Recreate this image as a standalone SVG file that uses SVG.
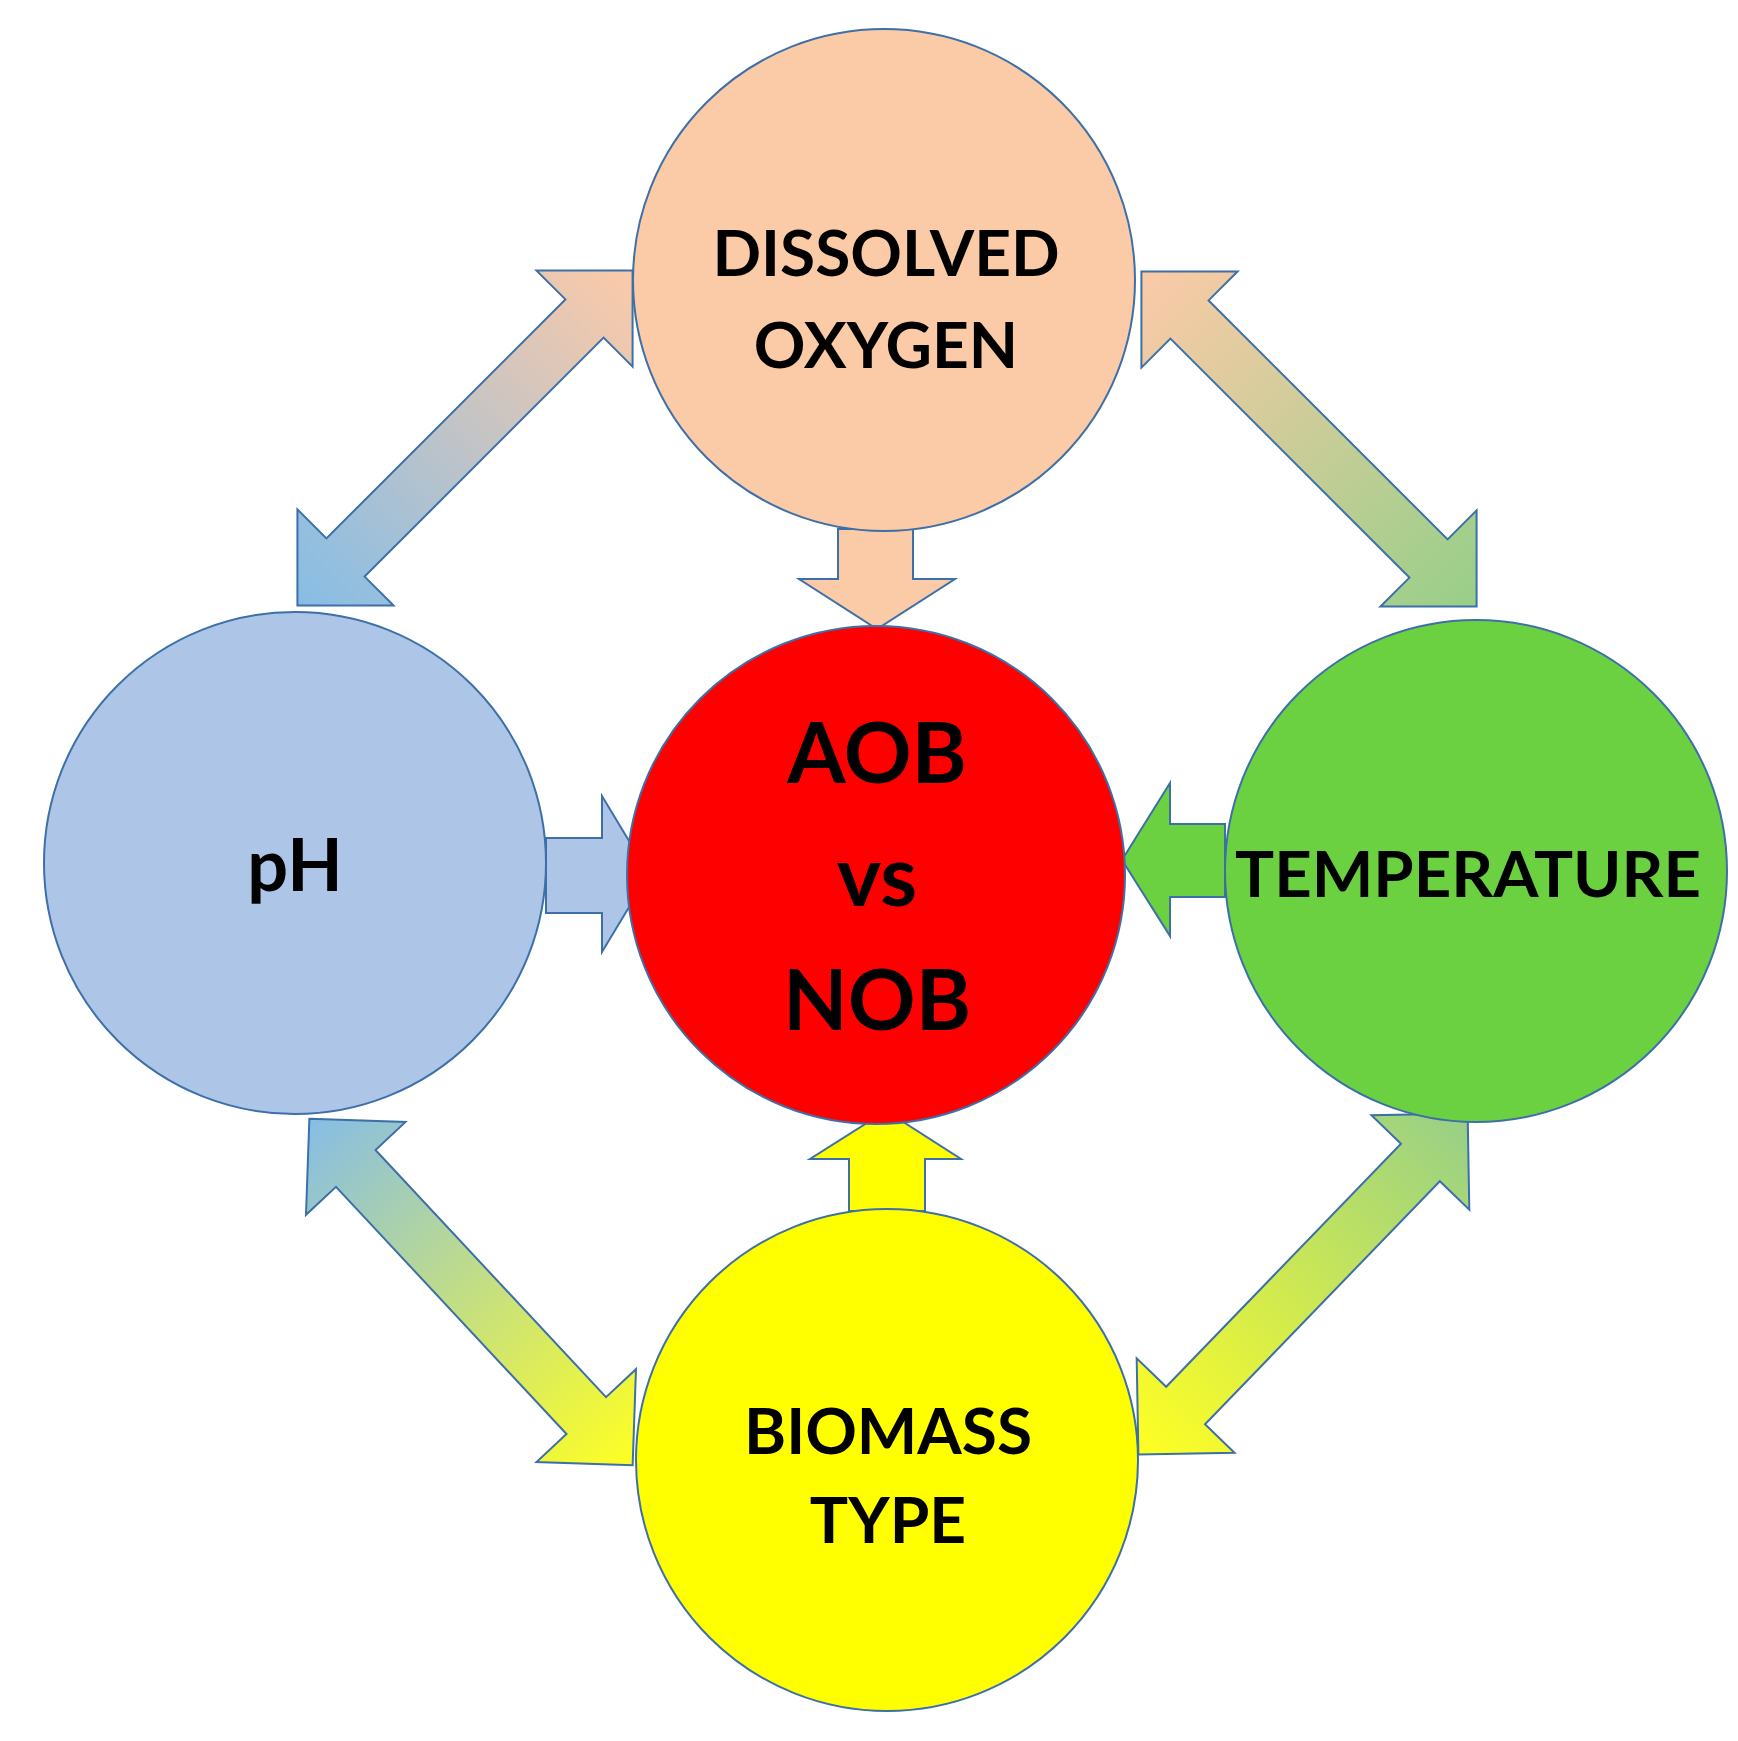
<svg xmlns="http://www.w3.org/2000/svg" width="1738" height="1741" viewBox="0 0 1738 1741">
<style>
.n{stroke:#3d6fa8;stroke-width:2}
.t{font-family:Lato,"Open Sans",sans-serif;font-weight:bold;fill:#000;text-anchor:middle}
.m{font-size:64px}
.b{font-size:84px}
</style>
<defs>
<polygon id="da" points="-237,0 -169,-68 -169,-27 169,-27 169,-68 237,0 169,68 169,27 -169,27 -169,68"/>
<linearGradient id="gTL"><stop offset="0" stop-color="#86bde6"/><stop offset="1" stop-color="#fccaa8"/></linearGradient>
<linearGradient id="gTR"><stop offset="0" stop-color="#fccaa8"/><stop offset="1" stop-color="#97cf88"/></linearGradient>
<linearGradient id="gBL"><stop offset="0" stop-color="#86bde6"/><stop offset="1" stop-color="#ffff22"/></linearGradient>
<linearGradient id="gBR"><stop offset="0" stop-color="#97cf88"/><stop offset="1" stop-color="#ffff22"/></linearGradient>
</defs>
<rect width="1738" height="1741" fill="#fff"/>
<g id="connectors">
<polygon class="n" fill="url(#gTL)" points="-237,0 -169,-68 -169,-27 169,-27 169,-68 237,0 169,68 169,27 -169,27 -169,68" transform="translate(465,438) rotate(-45)"/>
<polygon class="n" fill="url(#gTR)" points="-237,0 -169,-68 -169,-27 169,-27 169,-68 237,0 169,68 169,27 -169,27 -169,68" transform="translate(1309,439) rotate(45)"/>
<polygon class="n" fill="url(#gBL)" points="-237,0 -169,-68 -169,-27 169,-27 169,-68 237,0 169,68 169,27 -169,27 -169,68" transform="translate(471,1292) rotate(47)"/>
<polygon class="n" fill="url(#gBR)" points="-237,0 -169,-68 -169,-27 169,-27 169,-68 237,0 169,68 169,27 -169,27 -169,68" transform="translate(1303,1284) rotate(134)"/>
<polygon class="n" fill="#fbcaa6" points="838,529 913,529 913,579 955,579 877,629 799,579 838,579"/>
<polygon class="n" fill="#adc6e8" points="546,838 602,838 602,796 649,874 602,952 602,913 546,913"/>
<polygon class="n" fill="#6cd140" points="1225,824 1170,824 1170,783 1122,860 1170,936 1170,897 1225,897"/>
<polygon class="n" fill="#ffff00" points="849,1211 849,1159 810,1159 886,1111 961,1159 925,1159 925,1211"/>
</g>
<g id="do"><circle class="n" cx="884" cy="280" r="251" fill="#fbcaa6"/>
<text class="t m" x="886" y="276">DISSOLVED</text><text class="t m" x="886" y="368">OXYGEN</text></g>
<g id="ph"><circle class="n" cx="295" cy="863" r="251" fill="#adc6e8"/>
<text class="t" style="font-size:72px" x="295" y="891">pH</text></g>
<g id="aob"><circle class="n" cx="876" cy="875" r="249" fill="#ff0000"/>
<text class="t b" x="877" y="783">AOB</text><text class="t b" x="877" y="906">vs</text><text class="t b" x="877" y="1030">NOB</text></g>
<g id="temp"><circle class="n" cx="1476" cy="871" r="251" fill="#6cd140"/>
<text class="t m" x="1468" y="897" textLength="466" lengthAdjust="spacingAndGlyphs">TEMPERATURE</text></g>
<g id="bio"><circle class="n" cx="887" cy="1460" r="251" fill="#ffff00"/>
<text class="t m" x="888" y="1454">BIOMASS</text><text class="t m" x="888" y="1543">TYPE</text></g>
</svg>
